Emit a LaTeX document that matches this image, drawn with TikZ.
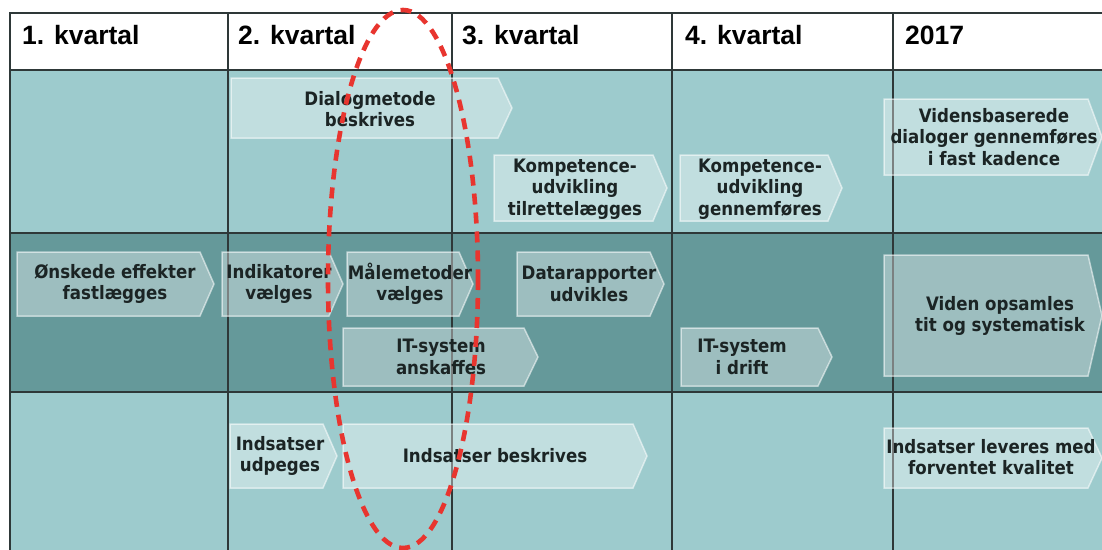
\documentclass[tikz,border=0pt]{standalone}
\usepackage{fontspec}
\setmainfont{DejaVu Sans}
\newfontfamily\hdrfont{Liberation Sans}
\newfontfamily\boxfont{DejaVu Sans}[FakeStretch=0.9]
\definecolor{rowlight}{HTML}{9DCBCD}
\definecolor{rowdark}{HTML}{65999A}
\definecolor{gridc}{HTML}{2E3838}
\definecolor{txtc}{HTML}{1B2424}
\definecolor{ellred}{HTML}{E8352F}
\newcommand\chevshape[4]{%
  \draw[chev] (#1,#2) -- ({#3-14},#2) -- (#3,{(#2+#4)/2}) -- ({#3-14},#4) -- (#1,#4) -- cycle;}
\begin{document}
\begin{tikzpicture}[x=1pt,y=-1pt,
  chev/.style={fill=white,fill opacity=0.37,draw=white,draw opacity=0.55,line width=1.5pt},
  lbl/.style={inner sep=0pt,align=center,text=txtc,font=\boxfont\bfseries\fontsize{18.5}{21.5}\selectfont},
  hdr/.style={anchor=base west,inner sep=0pt,text=black,font=\hdrfont\bfseries\fontsize{26.5}{30}\selectfont},
  gridline/.style={draw=gridc,line width=1.3pt},
  redell/.style={draw=ellred,line width=4.6pt,dash pattern=on 11pt off 8pt}]
\useasboundingbox (0,0) rectangle (1102,549);
\clip (0,0) rectangle (1102,549);
\fill[white] (0,0) rectangle (1102,549);
% rows
\fill[white] (10,13) rectangle (1110,70);
\fill[rowlight] (10,70) rectangle (1110,233);
\fill[rowdark] (10,233) rectangle (1110,392);
\fill[rowlight] (10,392) rectangle (1110,560);
% grid
\draw[gridline] (1110,13) -- (10,13) -- (10,560);
\foreach \yy in {70,233,392} \draw[gridline] (10,\yy) -- (1110,\yy);
\foreach \xx in {228,452,672,893} \draw[gridline] (\xx,13) -- (\xx,560);
% headers
\node[hdr] (h1) at (22,44) {1. kvartal};
\node[hdr] (h2) at (238,44) {2. kvartal};
\node[hdr] (h3) at (462,44) {3. kvartal};
\node[hdr] (h4) at (685,44) {4. kvartal};
\node[hdr] (h5) at (905,44) {2017};
% chevrons row 1
\chevshape{231}{78}{512}{138}
\chevshape{494}{155}{667}{221}
\chevshape{680}{155}{842}{221}
\chevshape{884}{99}{1102}{175}
% chevrons row 2
\chevshape{17}{252}{214}{316}
\chevshape{222}{252}{343}{316}
\chevshape{347}{252}{473}{316}
\chevshape{517}{252}{664}{316}
\chevshape{343}{328}{538}{386}
\chevshape{681}{328}{832}{386}
\chevshape{884}{255}{1102}{376}
% chevrons row 3
\chevshape{230}{424}{337}{488}
\chevshape{343}{424}{647}{488}
\chevshape{884}{428}{1102}{488}
% labels
\node[lbl] (dialog) at (370,109) {Dialogmetode\\beskrives};
\node[lbl] (komp1) at (575,189) {Kompetence-\\udvikling\\tilrettelægges};
\node[lbl] (komp2) at (760,189) {Kompetence-\\udvikling\\gennemføres};
\node[lbl] (viden1) at (994,137) {Vidensbaserede\\dialoger gennemføres\\i fast kadence};
\node[lbl] (effekt) at (115,284) {Ønskede effekter\\fastlægges};
\node[lbl] (indik) at (279,284) {Indikatorer\\vælges};
\node[lbl] (maale) at (410,284) {Målemetoder\\vælges};
\node[lbl] (data) at (589,284) {Datarapporter\\udvikles};
\node[lbl] (itans) at (441,357) {IT-system\\anskaffes};
\node[lbl] (itdrift) at (742,357) {IT-system\\i drift};
\node[lbl] (viden2) at (1000,316) {Viden opsamles\\tit og systematisk};
\node[lbl] (udpeg) at (280,456) {Indsatser\\udpeges};
\node[lbl] (beskr) at (495,456) {Indsatser beskrives};
\node[lbl] (lever) at (991,457) {Indsatser leveres med\\forventet kvalitet};
% red dashed ellipse
\draw[redell] (403,279) ellipse [x radius=75, y radius=269];
\end{tikzpicture}
\end{document}
